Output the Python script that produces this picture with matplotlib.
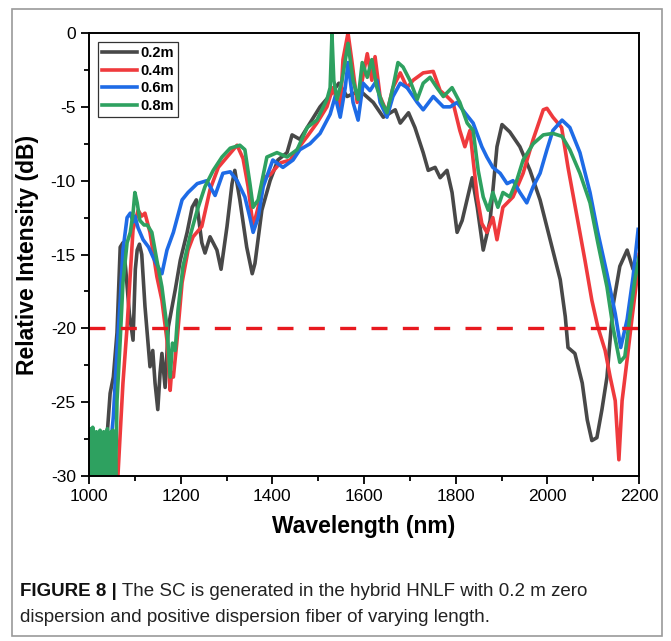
import matplotlib
matplotlib.use('Agg')
import matplotlib.pyplot as plt
from matplotlib.patches import Rectangle
from matplotlib.ticker import MultipleLocator

plt.rcParams['font.family'] = ['Liberation Sans', 'DejaVu Sans']
plt.rcParams['axes.unicode_minus'] = False

# 0.2 m
gray_wl = [1000, 1010, 1020, 1030, 1040, 1046, 1053, 1061, 1068, 1074, 1080, 1088, 1096, 1101, 1105,
           1110, 1115, 1122, 1133, 1139, 1144, 1150, 1155, 1159, 1166, 1173, 1188, 1199, 1214, 1225,
           1234, 1246, 1253, 1264, 1279, 1288, 1301, 1312, 1318, 1329, 1344, 1356, 1362, 1377, 1395,
           1412, 1432, 1443, 1460, 1482, 1504, 1526, 1545, 1563, 1591, 1620, 1642, 1668, 1679, 1697,
           1711, 1729, 1740, 1755, 1766, 1781, 1792, 1803, 1814, 1836, 1847, 1860, 1875, 1890, 1901,
           1918, 1940, 1962, 1984, 2006, 2028, 2039, 2045, 2060, 2076, 2087, 2097, 2108, 2119, 2130,
           2143, 2158, 2174, 2187, 2198]
gray_db = [-27.5, -28.5, -27.5, -28.0, -27.0, -24.4, -23.3, -20.3, -14.5, -14.2, -16.0, -19.0, -20.8, -16.0, -14.7,
           -14.3, -15.0, -18.5, -22.6, -21.5, -23.7, -25.5, -23.0, -21.7, -24.0, -19.9, -17.4, -15.4, -13.5, -11.8,
           -11.3, -14.2, -14.9, -13.8, -14.7, -16.0, -13.1, -10.2, -9.3, -11.3, -14.5, -16.3, -15.6, -12.0, -10.0,
           -8.6, -8.1, -6.9, -7.2, -6.1, -5.0, -4.2, -3.4, -4.3, -3.9, -4.7, -5.7, -5.2, -6.1, -5.4,
           -6.4, -8.1, -9.3, -9.1, -9.8, -9.3, -10.8, -13.5, -12.7, -9.8, -11.8, -14.7, -12.7, -7.7, -6.2,
           -6.7, -7.7, -9.3, -11.3, -14.0, -16.7, -19.2, -21.3, -21.7, -23.7, -26.2, -27.6, -27.4, -25.5, -23.3,
           -18.5, -15.8, -14.7, -16.0, -15.6]

# 0.4 m
red_wl = [1000, 1060, 1063, 1068, 1074, 1083, 1090, 1096, 1107, 1115, 1122, 1133, 1148, 1159, 1170,
          1177, 1180, 1184, 1192, 1203, 1216, 1227, 1246, 1264, 1282, 1301, 1323, 1336, 1347, 1358,
          1369, 1380, 1395, 1417, 1439, 1454, 1476, 1497, 1519, 1532, 1548, 1554, 1565, 1573, 1585,
          1596, 1607, 1617, 1624, 1635, 1650, 1663, 1679, 1694, 1707, 1729, 1751, 1766, 1781, 1794,
          1809, 1820, 1831, 1838, 1847, 1857, 1868, 1881, 1890, 1903, 1925, 1947, 1969, 1991, 1999,
          2012, 2031, 2045, 2065, 2082, 2097, 2110, 2126, 2137, 2148, 2156, 2163, 2174, 2185, 2196, 2200]
red_db = [-30.0, -30.0, -30.0, -27.1, -23.7, -19.9, -16.3, -13.3, -12.0, -12.4, -12.2, -13.5, -16.5, -18.1, -20.8,
          -24.2, -23.0, -23.3, -20.8, -16.9, -14.7, -13.8, -13.1, -10.6, -9.1, -8.4, -7.6, -8.5, -10.4, -13.1,
          -11.8, -9.8, -9.6, -8.8, -8.6, -7.9, -7.0, -6.1, -5.0, -3.7, -5.2, -1.8, 0.0, -1.8, -4.7,
          -3.2, -1.4, -3.2, -1.6, -4.3, -5.4, -3.7, -2.7, -3.7, -3.2, -2.7, -2.6, -3.9, -4.3, -4.7,
          -6.6, -7.7, -6.6, -8.6, -11.1, -12.9, -13.5, -12.5, -14.0, -11.8, -11.1, -9.5, -7.2, -5.2, -5.1,
          -5.7, -6.4, -9.1, -12.5, -15.4, -18.1, -19.9, -21.5, -23.3, -24.9, -28.9, -24.9, -22.1, -19.2, -16.5, -15.0]

# 0.6 m
blue_wl = [1000, 1020, 1040, 1050, 1053, 1061, 1068, 1074, 1083, 1090, 1096, 1100, 1107, 1118, 1130,
           1140, 1150, 1159, 1170, 1184, 1203, 1216, 1236, 1257, 1275, 1292, 1308, 1323, 1340, 1351,
           1358, 1369, 1380, 1401, 1423, 1445, 1460, 1482, 1504, 1526, 1537, 1548, 1559, 1565, 1576,
           1587, 1598, 1613, 1628, 1635, 1650, 1663, 1679, 1694, 1716, 1729, 1751, 1773, 1788, 1803,
           1820, 1838, 1857, 1868, 1881, 1897, 1912, 1925, 1940, 1955, 1969, 1984, 1999, 2012, 2032,
           2049, 2071, 2093, 2110, 2130, 2148, 2160, 2174, 2187, 2198]
blue_db = [-27.1, -27.5, -27.3, -27.0, -26.0, -21.5, -18.1, -14.7, -12.5, -12.2, -12.8, -12.4, -13.2, -14.0, -14.5,
           -15.2, -15.8, -16.3, -14.7, -13.5, -11.3, -10.8, -10.2, -10.0, -11.0, -9.5, -9.4, -10.0, -11.1, -12.5,
           -13.5, -12.5, -10.4, -8.6, -9.1, -8.6, -7.9, -7.5, -6.8, -5.5, -4.3, -5.7, -3.7, -2.0, -4.7,
           -5.9, -3.4, -3.9, -3.2, -4.7, -5.7, -4.3, -3.4, -3.7, -4.7, -5.2, -4.3, -5.0, -5.0, -4.7,
           -5.4, -6.1, -7.7, -8.4, -9.1, -9.5, -10.2, -10.0, -10.8, -11.5, -10.4, -9.5, -7.9, -6.6, -5.9,
           -6.4, -8.1, -10.8, -13.5, -16.3, -19.0, -21.3, -19.4, -16.5, -13.3]

# 0.8 m (noisy floor below 1060 nm)
green_wl = [1000, 1002, 1004, 1006, 1008, 1010, 1012, 1014, 1016, 1018, 1020, 1022, 1024, 1026, 1028,
            1030, 1032, 1034, 1036, 1038, 1040, 1042, 1044, 1046, 1048, 1050, 1052, 1054, 1056, 1058,
            1061, 1068, 1074, 1083, 1090, 1096, 1100, 1105, 1111, 1120, 1127, 1137, 1148, 1159, 1170,
            1177, 1182, 1188, 1194, 1205, 1220, 1236, 1253, 1271, 1290, 1308, 1329, 1340, 1351, 1358,
            1369, 1388, 1410, 1432, 1454, 1476, 1497, 1519, 1526, 1530, 1534, 1541, 1552, 1565, 1576,
            1587, 1596, 1607, 1617, 1628, 1639, 1650, 1663, 1674, 1685, 1700, 1716, 1729, 1744, 1759,
            1773, 1792, 1809, 1825, 1838, 1849, 1860, 1871, 1881, 1892, 1903, 1918, 1933, 1947, 1969,
            1991, 2012, 2032, 2049, 2071, 2093, 2110, 2130, 2143, 2158, 2169, 2180, 2191, 2200]
green_db = [-26.8, -30.0, -27.2, -30.0, -26.7, -30.0, -27.3, -30.0, -27.0, -30.0, -27.4, -30.0, -26.9, -30.0, -27.2,
            -30.0, -27.0, -30.0, -27.3, -30.0, -26.8, -30.0, -27.2, -30.0, -27.0, -30.0, -26.9, -30.0, -27.3, -30.0,
            -24.9, -20.8, -16.9, -14.2, -13.5, -12.2, -10.8, -11.5, -12.7, -13.0, -13.0, -13.5, -15.4, -17.2, -19.9,
            -23.3, -21.0, -21.5, -18.8, -15.8, -13.8, -12.0, -10.4, -9.3, -8.4, -7.8, -7.6, -7.9, -10.2, -11.8,
            -11.3, -8.4, -8.1, -8.4, -7.9, -6.4, -5.9, -4.5, -3.7, -0.1, -3.2, -4.5, -3.2, -0.7, -3.2,
            -4.5, -2.0, -3.0, -1.8, -3.7, -4.7, -5.4, -3.7, -2.0, -2.3, -3.2, -4.5, -3.4, -3.0, -3.7,
            -4.3, -3.7, -4.7, -6.1, -6.6, -9.3, -11.1, -12.0, -10.8, -11.8, -10.8, -11.1, -10.0, -8.6, -7.5,
            -6.9, -6.8, -7.0, -7.9, -9.5, -11.5, -14.2, -17.2, -19.9, -22.3, -21.9, -19.2, -16.7, -15.2]

labels = ['0.2m', '0.4m', '0.6m', '0.8m']
colors = ['#484848', '#ef3a3d', '#1e6be6', '#2ea160']
threshold = -20

fig = plt.figure(figsize=(6.71, 6.41), dpi=100)
ax = fig.add_axes([0.1327, 0.2574, 0.8197, 0.6911])

series = [(gray_wl, gray_db), (red_wl, red_db), (blue_wl, blue_db), (green_wl, green_db)]
for (wl, db), lab, col in zip(series, labels, colors):
    ax.plot(wl, db, color=col, lw=2.6, label=lab, solid_joinstyle='round')

ax.axhline(threshold, color='#e8191f', lw=2.4, dashes=(4.8, 4.6))

ax.set_xlim(1000, 2200)
ax.set_ylim(-30, 0)
ax.xaxis.set_major_locator(MultipleLocator(200))
ax.xaxis.set_minor_locator(MultipleLocator(100))
ax.yaxis.set_major_locator(MultipleLocator(5))
ax.yaxis.set_minor_locator(MultipleLocator(2.5))
ax.tick_params(which='major', length=6, width=1.3, labelsize=12.5, direction='out')
ax.tick_params(which='minor', length=3.6, width=1.3, direction='out')
for sp in ax.spines.values():
    sp.set_linewidth(1.4)

ax.set_xlabel('Wavelength (nm)', fontsize=16.5, fontweight='bold', labelpad=8)
ax.set_ylabel('Relative Intensity (dB)', fontsize=16.5, fontweight='bold', labelpad=8)

leg = ax.legend(loc='upper left', bbox_to_anchor=(0, 1), borderaxespad=0.6,
                prop={'weight': 'bold', 'size': 10.5}, handlelength=2.4, handletextpad=0.2,
                labelspacing=0.25, borderpad=0.3, fancybox=False, framealpha=1)
leg.get_frame().set_edgecolor('#333333')
leg.get_frame().set_linewidth(0.9)

# outer figure frame
fig.patches.append(Rectangle((12 / 671, 1 - 636 / 641), 650 / 671, 627 / 641, transform=fig.transFigure,
                             fill=False, edgecolor='#9a9a9a', lw=1.2))

cap_font = ['Liberation Sans', 'DejaVu Sans']
t1 = fig.text(20 / 671, 1 - 592 / 641, 'FIGURE 8 |', fontsize=13.5, fontweight='bold',
              family=cap_font, va='center', ha='left', color='#111111')
ax.annotate(' The SC is generated in the hybrid HNLF with 0.2 m zero', xy=(1, 0.5), xycoords=t1,
            va='center', ha='left', fontsize=13.5, family=cap_font, color='#222222')
fig.text(20 / 671, 1 - 617 / 641, 'dispersion and positive dispersion fiber of varying length.',
         fontsize=13.5, family=cap_font, va='center', ha='left', color='#222222')

fig.savefig('out.png', dpi=100)
